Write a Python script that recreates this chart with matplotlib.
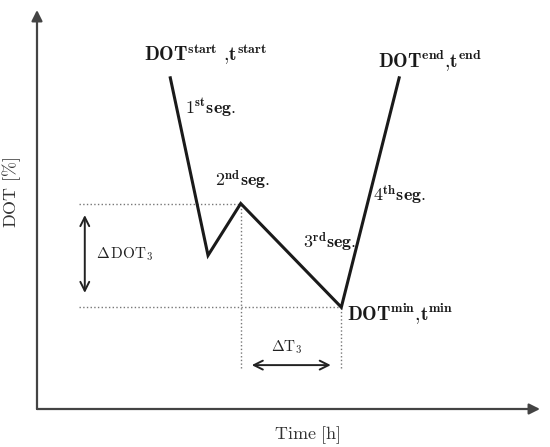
import matplotlib.pyplot as plt

plt.rcParams['mathtext.fontset'] = 'cm'
plt.rcParams['font.family'] = 'serif'
plt.rcParams['font.serif'] = ['cmr10', 'DejaVu Serif']

# DOT profile (arbitrary units, 0-100 on both axes)
time = [26.5, 34, 40.5, 60.5, 72]
dot = [83, 38.5, 51.5, 25.5, 83]

# reference lines / arrows
t_left = 8.3
t_bottom = 10.3
ddot_t = 9.5
ddot_range = [29.1, 48.6]
dt_dot = 11.0
dt_range = [42.7, 58.4]

point_labels = [
    (r'$\mathbf{DOT}^{\mathbf{start}}\ \mathbf{{,}t}^{\mathbf{start}}$', 21.3, 88.7),
    (r'$\mathbf{DOT}^{\mathbf{end}}\mathbf{{,}t}^{\mathbf{end}}$', 67.8, 87.0),
    (r'$\mathbf{DOT}^{\mathbf{min}}\mathbf{{,}t}^{\mathbf{min}}$', 61.6, 23.6),
]
seg_labels = [
    (r'$\mathbf{1}^{\mathbf{st}}\mathbf{seg.}$', 29.4, 75.4),
    (r'$\mathbf{2}^{\mathbf{nd}}\mathbf{seg.}$', 35.4, 57.4),
    (r'$\mathbf{3}^{\mathbf{rd}}\mathbf{seg.}$', 52.9, 41.9),
    (r'$\mathbf{4}^{\mathbf{th}}\mathbf{seg.}$', 66.8, 53.6),
]

W, H = 550, 447
fig = plt.figure(figsize=(W / 100, H / 100), dpi=100)
ax = fig.add_axes([37 / W, (H - 409) / H, 503 / W, 399 / H])
ax.set_xlim(0, 100)
ax.set_ylim(0, 100)
for s in ax.spines.values():
    s.set_visible(False)
ax.set_xticks([])
ax.set_yticks([])

axis_col = '#444444'
ax.annotate('', xy=(1, 0), xytext=(0, 0), xycoords='axes fraction',
            arrowprops=dict(arrowstyle='-|>', color=axis_col, lw=1.6,
                            mutation_scale=16, shrinkA=0, shrinkB=0))
ax.annotate('', xy=(0, 1), xytext=(0, 0), xycoords='axes fraction',
            arrowprops=dict(arrowstyle='-|>', color=axis_col, lw=1.6,
                            mutation_scale=16, shrinkA=0, shrinkB=0))

# dotted helpers
dcol = '#777777'
ax.plot([t_left, time[2]], [dot[2], dot[2]], ls=':', color=dcol, lw=1)
ax.plot([t_left, time[3]], [dot[3], dot[3]], ls=':', color=dcol, lw=1)
ax.plot([time[2], time[2]], [t_bottom, dot[2]], ls=':', color=dcol, lw=1)
ax.plot([time[3], time[3]], [t_bottom, dot[3]], ls=':', color=dcol, lw=1)

ax.plot(time, dot, color='#1a1a1a', lw=2.2, solid_joinstyle='miter')

ax.annotate('', xy=(ddot_t, ddot_range[0]), xytext=(ddot_t, ddot_range[1]),
            arrowprops=dict(arrowstyle='<->', color='#222222', lw=1.4,
                            mutation_scale=16, shrinkA=0, shrinkB=0))
ax.annotate('', xy=(dt_range[0], dt_dot), xytext=(dt_range[1], dt_dot),
            arrowprops=dict(arrowstyle='<->', color='#222222', lw=1.4,
                            mutation_scale=16, shrinkA=0, shrinkB=0))
ax.text(11.7, 38.8, r'$\Delta\,\mathrm{DOT}_3$', fontsize=11, va='center', color='#222222')
ax.text(49.7, 15.4, r'$\Delta\mathrm{T}_3$', fontsize=11, va='center', ha='center', color='#222222')

for txt, x, y in point_labels:
    ax.text(x, y, txt, fontsize=14, va='center', color='#1a1a1a')
for txt, x, y in seg_labels:
    ax.text(x, y, txt, fontsize=13, va='center', color='#1a1a1a')

ax.set_xlabel(r'$\mathrm{Time\ [h]}$', fontsize=13, color='#333333')
ax.set_ylabel(r'$\mathrm{DOT\ [\%]}$', fontsize=13, color='#333333')
ax.xaxis.set_label_coords((307 - 37) / 503, -15 / 399)
ax.yaxis.set_label_coords(-14 / 503, (409 - 192) / 399)

fig.savefig('out.png', dpi=100)
